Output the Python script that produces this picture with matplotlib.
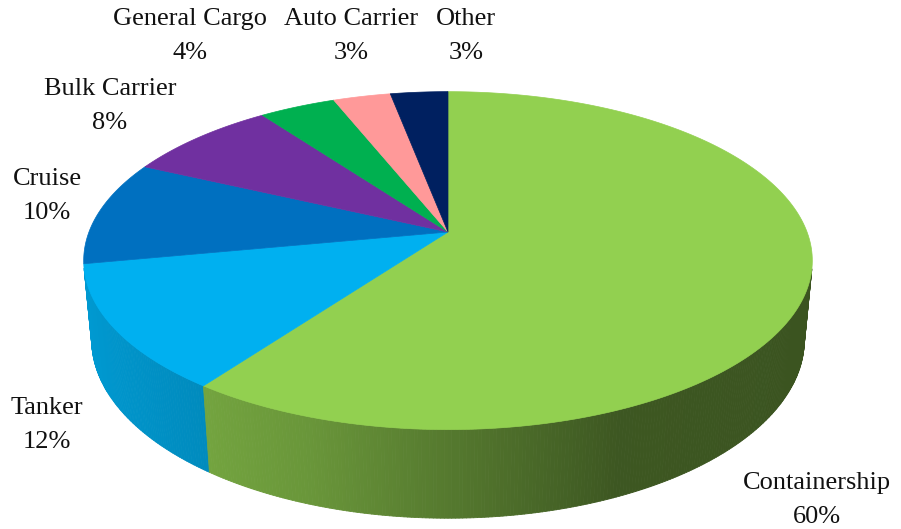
import matplotlib.pyplot as plt
import numpy as np
from matplotlib.collections import PolyCollection
from matplotlib.colors import to_rgb

categories = ["Containership", "Tanker", "Cruise", "Bulk Carrier",
              "General Cargo", "Auto Carrier", "Other"]
shares = [60, 12, 10, 8, 4, 3, 3]
colors = ["#92D050", "#00B0F0", "#0070C0", "#7030A0",
          "#00B050", "#FF9999", "#002060"]

# label block centres in pixels
label_pos = [(817, 500), (47, 425), (47, 196), (110, 106),
             (190, 36), (351, 36), (466, 36)]

# ---------------- 3D view of the pie -----------------
tilt = np.radians(27.2)
dist = 5.25      # camera distance, in pie radii
thick = 0.25     # pie thickness, in pie radii
focal = 1885
cx, cy = 448, 232


def project(X, Y, Z):
    d = dist + Y * np.cos(tilt) - Z * np.sin(tilt)
    sx = X / d
    sy = (Y * np.sin(tilt) + Z * np.cos(tilt)) / d
    return cx + focal * sx, cy - focal * sy


def rim(theta, z):
    # theta measured clockwise from 12 o'clock
    return project(np.sin(theta), np.cos(theta), z)


def wall_shade(x):
    # lighter on the left side of the rim, darker on the right
    return np.interp(x, [-1, -0.59, -0.32, 0.08, 0.4, 1],
                     [0.88, 0.79, 0.72, 0.55, 0.42, 0.40])


fig = plt.figure(figsize=(9.01, 5.29), dpi=100)
ax = fig.add_axes([0, 0, 1, 1])
ax.set_xlim(0, 901)
ax.set_ylim(529, 0)
ax.axis("off")

fracs = np.array(shares, dtype=float) / sum(shares)
edges = np.concatenate([[0], np.cumsum(fracs)]) * 2 * np.pi

# side walls
quads, qcols, qdepth = [], [], []
for i in range(len(shares)):
    a0, a1 = edges[i], edges[i + 1]
    n = max(int(np.degrees(a1 - a0) * 2), 2)
    ts = np.linspace(a0, a1, n + 1)
    base = np.array(to_rgb(colors[i]))
    for ta, tb in zip(ts[:-1], ts[1:]):
        tm = 0.5 * (ta + tb)
        if np.cos(tm) > -1 / (dist * np.cos(tilt)):
            continue
        p1 = rim(ta, 0); p2 = rim(tb, 0)
        p3 = rim(tb, -thick); p4 = rim(ta, -thick)
        quads.append([p1, p2, p3, p4])
        qcols.append(np.clip(base * wall_shade(np.sin(tm)), 0, 1))
        qdepth.append(np.cos(tm))
order = np.argsort(qdepth)[::-1]
ax.add_collection(PolyCollection([quads[k] for k in order],
                                 facecolors=[qcols[k] for k in order],
                                 edgecolors=[qcols[k] for k in order],
                                 linewidths=0.6))

# top faces
for i in range(len(shares)):
    ts = np.linspace(edges[i], edges[i + 1], 200)
    xs, ys = rim(ts, 0)
    px = np.concatenate([[cx], xs])
    py = np.concatenate([[cy], ys])
    ax.fill(px, py, color=colors[i], lw=0.5, ec=colors[i])

# data labels
for name, val, (lx, ly) in zip(categories, shares, label_pos):
    ax.text(lx, ly, f"{name}\n{val}%", ha="center", va="center",
            multialignment="center", fontsize=19, linespacing=1.68,
            family="Liberation Serif", color="#111111")

fig.savefig("out.png", dpi=100)
